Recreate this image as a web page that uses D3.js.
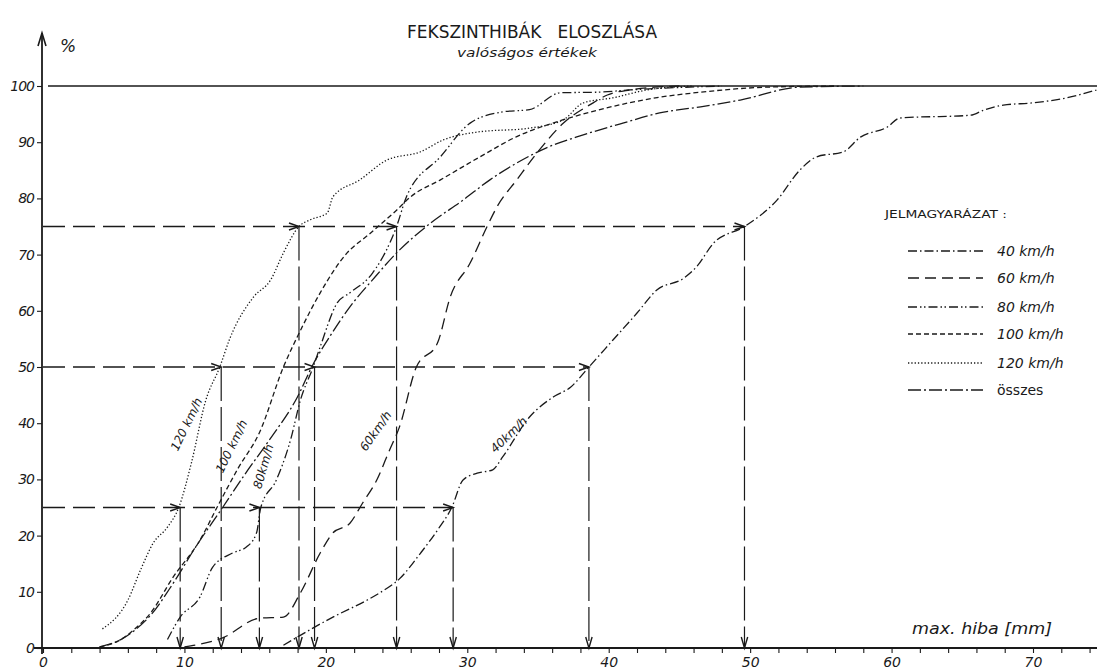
<!DOCTYPE html>
<html><head><meta charset="utf-8">
<script src="https://cdn.jsdelivr.net/npm/d3@7"></script>
<style>
html,body{margin:0;padding:0;background:#fff;}
svg{display:block;}
text{font-family:"DejaVu Sans","Liberation Sans",sans-serif;fill:#1a1a1a;}
</style></head>
<body>
<svg id="c" width="1097" height="670"></svg>
<script>
// ---- data ----
const seriesNames = ["40 km/h","60 km/h","80 km/h","100 km/h","120 km/h","összes"];

const x120 = [4.2,6.0,6.9,7.8,8.8,9.6,10.5,11.5,12.5,13.2,14.9,16.1,17.0,18.1,18.9,20.1,20.5,22.4,24.3,26.7,28.3,30.7,34.4,36.8,38.2,40.3,42.7,46];
const y120 = [3.4,8.5,13.9,18.7,21.5,25,33,44,50,55,62.5,65.5,70.3,75,76.2,77.4,80.3,83.3,86.8,88.3,90.4,91.8,92.5,94,97,97.9,99.3,100];

const x100 = [4.0,5.5,6.4,7.6,9.2,11.1,12.3,13.8,15.3,17.0,18.3,19.6,21.5,23.0,25.0,26.0,28.1,30.9,33.5,36.8,39.2,43.6,46.5,51.2,56];
const y100 = [0.2,1.5,3.2,6.2,12.6,19.2,25,32,38.3,50,57,63.2,70.3,73.5,77.9,80.3,83.3,87.4,91,94,95.7,98,98.9,99.8,100];

const x80 = [8.8,9.7,11.1,12.0,13.4,14.4,15.1,15.4,16.5,17.5,18.2,19.1,19.6,20.8,21.7,23.3,25.0,25.7,28.1,30.2,32.5,34.4,36.6,39.2,41.5,48];
const y80 = [1.5,5.5,9.1,14.4,16.9,18,20.5,25,29.9,37,44.1,50,53.6,61.4,63.2,66.7,75,80.3,87.4,93.4,95.4,95.8,98.8,98.9,99.3,100];

const x60 = [10.0,12.7,15.3,17.0,18.2,19.6,20.5,21.7,22.6,23.6,24.5,25.2,26.4,27.9,28.8,30.2,31.4,32.1,33.5,34.9,36.8,38.9,39.9,41.5,45];
const y60 = [0.2,1.8,5.3,5.5,9.8,16.9,20.5,22.2,25.8,29.9,35.2,39.3,50,54.3,62.5,68.5,75,78.5,83.3,88,93.4,97,98.4,99.3,100];

const x40 = [17.0,20.5,22.9,23.8,25.2,26.7,27.9,28.9,29.7,30.7,31.8,32.5,34.4,36.1,37.3,38.6,40.3,42.0,43.4,45.3,46.2,47.4,49.6,51.9,53.5,54.7,56.6,57.8,59.7,60.6,65.6,66.5,67.9,70.0,72.4,74.5];
const y40 = [0.5,5.5,8.5,9.8,12.3,16.9,21,25,29.9,31.1,31.7,34,41.1,44.7,46.4,50,54.8,59.6,63.7,65.8,67.8,72,75,79.7,85,87.4,88.3,90.9,92.7,94.3,94.8,95.7,96.6,97,97.9,99.3];

const xAll = [4.0,5.5,6.4,7.6,9.2,10.8,12.7,14.3,16.0,18.0,19.1,20.3,21.7,23.3,25.0,27.4,29.7,31.6,33.5,35.6,38.2,41.0,43.6,46.5,49.3,53.5,58];
const yAll = [0.2,1.5,3.0,5.8,11.5,18,25,31,37,44.7,50.5,55.5,60.7,65.5,70.3,75.6,79.7,83.3,86.3,89,91.3,93.4,95.2,96.3,97.5,99.8,100];

// quartile read-off lines (level %, and x where each speed reaches it)
const levels = [25, 50, 75];
const q120 = [9.7, 12.6, 18.1];
const q80  = [15.3, 19.2, 25.0];
const q40  = [29.0, 38.6, 49.6];

const xTicks = [0,10,20,30,40,50,60,70];
const yTicks = [0,10,20,30,40,50,60,70,80,90,100];

// ---- drawing ----
const svg = d3.select("#c");
const x = d3.scaleLinear().domain([0,70]).range([43,1033]);
const y = d3.scaleLinear().domain([0,100]).range([648,86]);
const ink = "#1a1a1a";

// title
svg.append("text").attr("x",532).attr("y",38).attr("text-anchor","middle")
  .attr("font-size",18).attr("textLength",250).attr("lengthAdjust","spacingAndGlyphs")
  .text("FEKSZINTHIBÁK\u00A0\u00A0\u00A0ELOSZLÁSA");
svg.append("text").attr("x",527).attr("y",57).attr("text-anchor","middle")
  .attr("font-size",12).attr("font-style","italic").attr("textLength",140).attr("lengthAdjust","spacingAndGlyphs")
  .text("valóságos értékek");

// 100% line
svg.append("line").attr("x1",48).attr("x2",1097).attr("y1",y(100)).attr("y2",y(100))
  .attr("stroke",ink).attr("stroke-width",1.6);

// x axis
const minor = d3.range(0,76,2);
const xa = svg.append("g").attr("transform",`translate(0,${y(0)})`)
  .call(d3.axisBottom(x).tickValues(minor).tickSize(5).tickFormat(d => xTicks.includes(d) ? d : ""));
xa.select(".domain").remove();
xa.selectAll("line").attr("stroke",ink).attr("stroke-width",1.1);
xa.selectAll("text").attr("font-size",14).attr("font-style","italic").attr("dy","0.8em").attr("fill",ink);
svg.append("line").attr("x1",34).attr("x2",1097).attr("y1",y(0)).attr("y2",y(0))
  .attr("stroke",ink).attr("stroke-width",1.8);

// y axis
const ya = svg.append("g").attr("transform","translate(42,0)")
  .call(d3.axisLeft(y).tickValues(yTicks).tickSize(5).tickPadding(3));
ya.select(".domain").remove();
ya.selectAll("line").attr("stroke",ink).attr("stroke-width",1.1);
ya.selectAll("text").attr("font-size",14).attr("font-style","italic").attr("fill",ink).attr("letter-spacing","-1");
svg.append("line").attr("x1",42).attr("x2",42).attr("y1",654).attr("y2",33)
  .attr("stroke",ink).attr("stroke-width",1.8);
svg.append("path").attr("d","M38,46 L42,33 L46,46").attr("fill","none").attr("stroke",ink).attr("stroke-width",1.6);
svg.append("text").attr("x",60).attr("y",52).attr("font-size",17).attr("font-style","italic").text("%");

// axis title
svg.append("text").attr("x",982).attr("y",634).attr("text-anchor","middle").attr("font-size",16)
  .attr("font-style","italic").attr("textLength",140).attr("lengthAdjust","spacingAndGlyphs").text("max. hiba [mm]");

// reference lines
const ref = svg.append("g");
const arrowR = (px,py) => `M${px-10},${py-3.5} L${px},${py} L${px-10},${py+3.5}`;
const arrowD = (px,py) => `M${px-3.2},${py-11} L${px},${py} L${px+3.2},${py-11}`;
levels.forEach((lv,i) => {
  const pts = [q120[i], q80[i], q40[i]];
  const end = d3.max(pts);
  ref.append("line").attr("x1",43).attr("x2",x(end)).attr("y1",y(lv)).attr("y2",y(lv))
    .attr("stroke",ink).attr("stroke-width",1.7).attr("stroke-dasharray","22,8");
  pts.forEach(v => {
    ref.append("path").attr("d",arrowR(x(v),y(lv))).attr("fill","none").attr("stroke",ink).attr("stroke-width",1.4);
    ref.append("line").attr("x1",x(v)).attr("x2",x(v)).attr("y1",y(lv)).attr("y2",y(0))
      .attr("stroke",ink).attr("stroke-width",1.2).attr("stroke-dasharray","34,6");
    ref.append("path").attr("d",arrowD(x(v),y(0))).attr("fill","none").attr("stroke",ink).attr("stroke-width",1.4);
  });
});

// curves
const series = [
  {name:seriesNames[0], xs:x40, ys:y40, dash:"9,3,1.5,3"},
  {name:seriesNames[1], xs:x60, ys:y60, dash:"11,6"},
  {name:seriesNames[2], xs:x80, ys:y80, dash:"9,3,1.5,2.5,1.5,3"},
  {name:seriesNames[3], xs:x100, ys:y100, dash:"5,3"},
  {name:seriesNames[4], xs:x120, ys:y120, dash:"1.3,2"},
  {name:seriesNames[5], xs:xAll, ys:yAll, dash:"13,3,2,3"}
];
const line = d3.line().x(d=>x(d[0])).y(d=>y(d[1])).curve(d3.curveMonotoneX);
series.forEach(s => {
  svg.append("path").datum(s.xs.map((v,i)=>[v,s.ys[i]])).attr("d",line)
    .attr("fill","none").attr("stroke",ink).attr("stroke-width",1.3).attr("stroke-dasharray",s.dash);
});

// curve labels (written just left of their curves)
const curveLabels = [
  {t:"120 km/h", cx:188, cy:425, a:-64},
  {t:"100 km/h", cx:233, cy:447, a:-64},
  {t:"80km/h", cx:265, cy:467, a:-74},
  {t:"60km/h", cx:377, cy:432, a:-55},
  {t:"40km/h", cx:510, cy:436, a:-44}
];
curveLabels.forEach(l => {
  svg.append("text").attr("transform",`translate(${l.cx},${l.cy}) rotate(${l.a})`)
    .attr("text-anchor","middle").attr("dy","0.2em").attr("font-size",12).attr("font-style","italic").text(l.t);
});

// legend
svg.append("text").attr("x",885).attr("y",218).attr("font-size",11).attr("textLength",122)
  .attr("lengthAdjust","spacingAndGlyphs").text("JELMAGYARÁZAT :");
const legY = [251,278,307,334,363,390];
series.forEach((s,i) => {
  svg.append("line").attr("x1",908).attr("x2",983).attr("y1",legY[i]).attr("y2",legY[i])
    .attr("stroke",ink).attr("stroke-width",1.3).attr("stroke-dasharray",s.dash);
  svg.append("text").attr("x",997).attr("y",legY[i]+5).attr("font-size",14).attr("font-style", i===5?"normal":"italic")
    .text(s.name);
});
</script>
</body></html>
